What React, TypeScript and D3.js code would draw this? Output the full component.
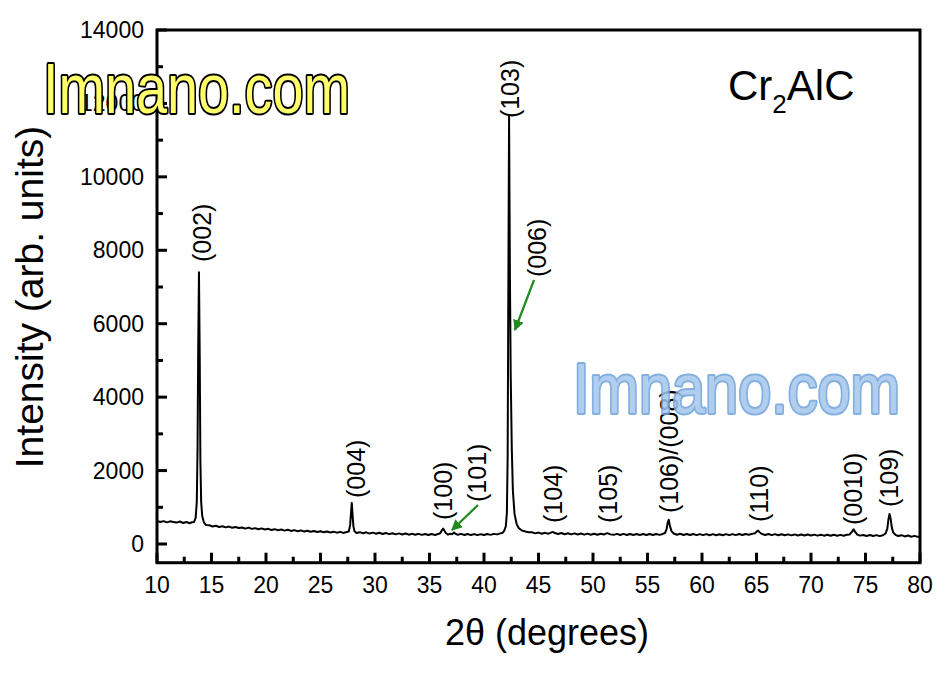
import React from "react";
import * as d3 from "d3";

// ---------- data ----------
const xTickValues = [10, 15, 20, 25, 30, 35, 40, 45, 50, 55, 60, 65, 70, 75, 80];
const xMinorValues = [12.5, 17.5, 22.5, 27.5, 32.5, 37.5, 42.5, 47.5, 52.5, 57.5, 62.5, 67.5, 72.5, 77.5];
const yTickValues = [0, 2000, 4000, 6000, 8000, 10000, 12000, 14000];
const yMinorValues = [1000, 3000, 5000, 7000, 9000, 11000, 13000];

// 2theta (deg), intensity (arb. units)
const pattern: [number, number][] = [
  [10.0, 630], [10.3, 598], [10.6, 624], [10.9, 590], [11.2, 617], [11.5, 601], [11.8, 583], [12.1, 612],
  [12.4, 572], [12.7, 600], [13.0, 566], [13.2, 592], [13.4, 600], [13.55, 720], [13.65, 1150], [13.72, 2600],
  [13.78, 5300], [13.85, 7400], [13.92, 5100], [13.98, 2300], [14.05, 1150], [14.15, 760], [14.3, 590], [14.5, 515],
  [14.8, 512], [15.1, 478], [15.4, 497], [15.7, 463], [16.0, 484], [16.3, 452], [16.6, 475], [16.9, 441],
  [17.2, 462], [17.5, 436], [17.8, 451], [18.1, 419], [18.4, 446], [18.7, 412], [19.0, 431], [19.3, 400],
  [19.6, 425], [19.9, 394], [20.2, 413], [20.5, 383], [20.8, 404], [21.1, 376], [21.4, 395], [21.7, 365],
  [22.0, 387], [22.3, 356], [22.6, 378], [22.9, 349], [23.2, 370], [23.5, 340], [23.8, 362], [24.1, 333],
  [24.4, 354], [24.7, 327], [25.0, 349], [25.3, 318], [25.6, 342], [25.9, 314], [26.2, 336], [26.5, 309],
  [26.8, 331], [27.1, 302], [27.4, 325], [27.6, 340], [27.72, 520], [27.8, 850], [27.87, 1120], [27.94, 800],
  [28.02, 480], [28.12, 345], [28.3, 300], [28.6, 322], [28.9, 291], [29.2, 318], [29.5, 284], [29.8, 309],
  [30.1, 279], [30.4, 305], [30.7, 272], [31.0, 298], [31.3, 268], [31.6, 294], [31.9, 263], [32.2, 289],
  [32.5, 259], [32.8, 285], [33.1, 254], [33.4, 281], [33.7, 251], [34.0, 277], [34.3, 248], [34.6, 274],
  [34.9, 244], [35.2, 271], [35.5, 246], [35.8, 270], [36.0, 300], [36.15, 380], [36.25, 420], [36.35, 370],
  [36.5, 300], [36.7, 255], [36.9, 281], [37.1, 268], [37.25, 315], [37.4, 275], [37.6, 250], [37.9, 276],
  [38.2, 245], [38.5, 272], [38.8, 243], [39.1, 270], [39.4, 242], [39.7, 268], [40.0, 244], [40.3, 272],
  [40.6, 249], [40.9, 276], [41.2, 262], [41.5, 290], [41.7, 305], [41.85, 360], [42.0, 480], [42.1, 850],
  [42.17, 2400], [42.22, 6000], [42.3, 11650], [42.38, 7200], [42.45, 4600], [42.55, 2600], [42.65, 1450], [42.8, 820],
  [43.0, 540], [43.2, 430], [43.5, 365], [43.8, 340], [44.1, 318], [44.4, 318], [44.7, 290], [45.0, 311],
  [45.3, 281], [45.6, 304], [45.9, 279], [46.1, 305], [46.3, 330], [46.5, 298], [46.8, 272], [47.1, 298],
  [47.4, 266], [47.7, 292], [48.0, 262], [48.3, 289], [48.6, 258], [48.9, 286], [49.2, 255], [49.5, 283],
  [49.8, 253], [50.1, 281], [50.4, 251], [50.7, 279], [51.0, 258], [51.3, 295], [51.6, 262], [51.9, 249],
  [52.2, 277], [52.5, 247], [52.8, 275], [53.1, 246], [53.4, 274], [53.7, 245], [54.0, 273], [54.3, 244],
  [54.6, 272], [54.9, 245], [55.2, 273], [55.5, 244], [55.8, 272], [56.1, 248], [56.4, 274], [56.6, 300],
  [56.75, 400], [56.85, 580], [56.95, 660], [57.05, 500], [57.2, 350], [57.4, 285], [57.7, 252], [58.0, 278],
  [58.3, 247], [58.6, 274], [58.9, 244], [59.2, 272], [59.5, 242], [59.8, 270], [60.1, 241], [60.4, 269],
  [60.7, 240], [61.0, 268], [61.3, 239], [61.6, 267], [61.9, 240], [62.2, 268], [62.5, 241], [62.8, 269],
  [63.1, 242], [63.4, 271], [63.7, 246], [64.0, 274], [64.3, 250], [64.6, 276], [64.85, 290], [65.0, 335],
  [65.15, 365], [65.3, 315], [65.5, 272], [65.8, 246], [66.1, 272], [66.4, 242], [66.7, 268], [67.0, 239],
  [67.3, 265], [67.6, 237], [67.9, 263], [68.2, 235], [68.5, 261], [68.8, 233], [69.1, 259], [69.4, 231],
  [69.7, 257], [70.0, 230], [70.3, 255], [70.6, 228], [70.9, 254], [71.2, 227], [71.5, 252], [71.8, 225],
  [72.1, 251], [72.4, 224], [72.7, 249], [73.0, 223], [73.3, 250], [73.55, 260], [73.75, 330], [73.9, 400],
  [74.05, 330], [74.25, 255], [74.5, 228], [74.8, 246], [75.1, 219], [75.4, 244], [75.7, 216], [76.0, 241],
  [76.3, 215], [76.6, 238], [76.85, 290], [77.0, 420], [77.1, 660], [77.2, 820], [77.3, 700], [77.42, 440],
  [77.55, 310], [77.75, 250], [78.0, 218], [78.3, 240], [78.6, 206], [78.9, 230], [79.2, 199], [79.5, 222],
  [79.8, 194], [80.0, 215],
];

const peakLabelText = ["(002)", "(004)", "(100)", "(101)", "(103)", "(006)", "(104)", "(105)", "(106)/(008)", "(110)", "(0010)", "(109)"];
const peakLabelTheta = [14.13, 28.26, 36.24, 39.36, 42.39, 44.86, 46.33, 51.38, 56.97, 65.23, 73.85, 77.16];
const peakLabelBase = [7681, 1253, 654, 1144, 11600, 7272, 572, 572, 844, 599, 517, 1008];

// arrows: [theta0, I0, theta1, I1] (tail -> head)
const arrowLines: [number, number, number, number][] = [
  [44.59, 7191, 42.84, 5829],
  [39.45, 1062, 37.06, 381],
];

// ---------- chart ----------
const W = 948;
const H = 677;
const FONT = "'Liberation Sans', Arial, Helvetica, sans-serif";

export default function App() {
  const x = d3.scaleLinear().domain([10, 80]).range([157, 920]);
  const y = d3.scaleLinear().domain([0, 14000]).range([544, 30]);
  const yBottom = y(-510);
  const left = x(10);
  const right = x(80);
  const top = y(14000);

  const line = d3
    .line<[number, number]>()
    .x((d) => x(d[0]))
    .y((d) => y(d[1]));

  return (
    <svg
      width={W}
      height={H}
      viewBox={`0 0 ${W} ${H}`}
      style={{ position: "absolute", left: 0, top: 0, background: "#fff" }}
      fontFamily={FONT}
    >
      <defs>
        <marker id="ah" viewBox="0 0 10 10" refX="9" refY="5" markerWidth="5" markerHeight="5" orient="auto" markerUnits="strokeWidth">
          <path d="M0,0 L10,5 L0,10 z" fill="#1f8a1f" />
        </marker>
      </defs>

      {/* data */}
      <path d={line(pattern) || ""} fill="none" stroke="#000" strokeWidth={2} strokeLinejoin="round" />

      {/* ticks */}
      {xTickValues.map((v) => (
        <line key={"xt" + v} x1={x(v)} x2={x(v)} y1={yBottom} y2={yBottom - 10} stroke="#000" strokeWidth={3} />
      ))}
      {xMinorValues.map((v) => (
        <line key={"xm" + v} x1={x(v)} x2={x(v)} y1={yBottom} y2={yBottom - 6} stroke="#000" strokeWidth={3} />
      ))}
      {yTickValues.map((v) => (
        <line key={"yt" + v} x1={left} x2={left + 10} y1={y(v)} y2={y(v)} stroke="#000" strokeWidth={3} />
      ))}
      {yMinorValues.map((v) => (
        <line key={"ym" + v} x1={left} x2={left + 6} y1={y(v)} y2={y(v)} stroke="#000" strokeWidth={3} />
      ))}

      {/* frame */}
      <rect x={left} y={top} width={right - left} height={yBottom - top} fill="none" stroke="#000" strokeWidth={3} />

      {/* tick labels */}
      {xTickValues.map((v) => (
        <text key={"xl" + v} x={x(v)} y={593} fontSize={23} textAnchor="middle" fill="#000">
          {v}
        </text>
      ))}
      {yTickValues.map((v) => (
        <text key={"yl" + v} x={144} y={y(v) + 8} fontSize={23} textAnchor="end" fill="#000">
          {v}
        </text>
      ))}

      {/* axis titles */}
      <text x={547} y={645} fontSize={36} textAnchor="middle" fill="#000">
        2θ (degrees)
      </text>
      <text transform={`translate(43,297) rotate(-90)`} fontSize={39} textAnchor="middle" fill="#000">
        Intensity (arb. units)
      </text>

      {/* peak labels */}
      {peakLabelText.map((t, i) => (
        <text
          key={"pl" + i}
          transform={`translate(${x(peakLabelTheta[i]) + 9},${y(peakLabelBase[i])}) rotate(-90)`}
          fontSize={25}
          textAnchor="start"
          fill="#000"
        >
          {t}
        </text>
      ))}

      {/* arrows */}
      {arrowLines.map((a, i) => (
        <line
          key={"ar" + i}
          x1={x(a[0])}
          y1={y(a[1])}
          x2={x(a[2])}
          y2={y(a[3])}
          stroke="#1f8a1f"
          strokeWidth={2.2}
          markerEnd="url(#ah)"
        />
      ))}

      {/* compound name */}
      <text x={728} y={100} fontSize={42} fill="#000">
        Cr
        <tspan fontSize={26} dy={13}>2</tspan>
        <tspan dy={-13}>AlC</tspan>
      </text>

      {/* watermarks */}
      <text
        x={43}
        y={113}
        fontSize={70}
        textLength={307}
        lengthAdjust="spacingAndGlyphs"
        fill="#ffff6a"
        stroke="#000"
        strokeWidth={4}
        strokeLinejoin="round"
        style={{ paintOrder: "stroke" }}
      >
        Imnano.com
      </text>
      <text
        x={573}
        y={413}
        fontSize={70}
        textLength={327}
        lengthAdjust="spacingAndGlyphs"
        fill="#a4c6ec"
        stroke="#6fa2dc"
        strokeWidth={4}
        strokeLinejoin="round"
        opacity={0.85}
        style={{ paintOrder: "stroke" }}
      >
        Imnano.com
      </text>
    </svg>
  );
}
